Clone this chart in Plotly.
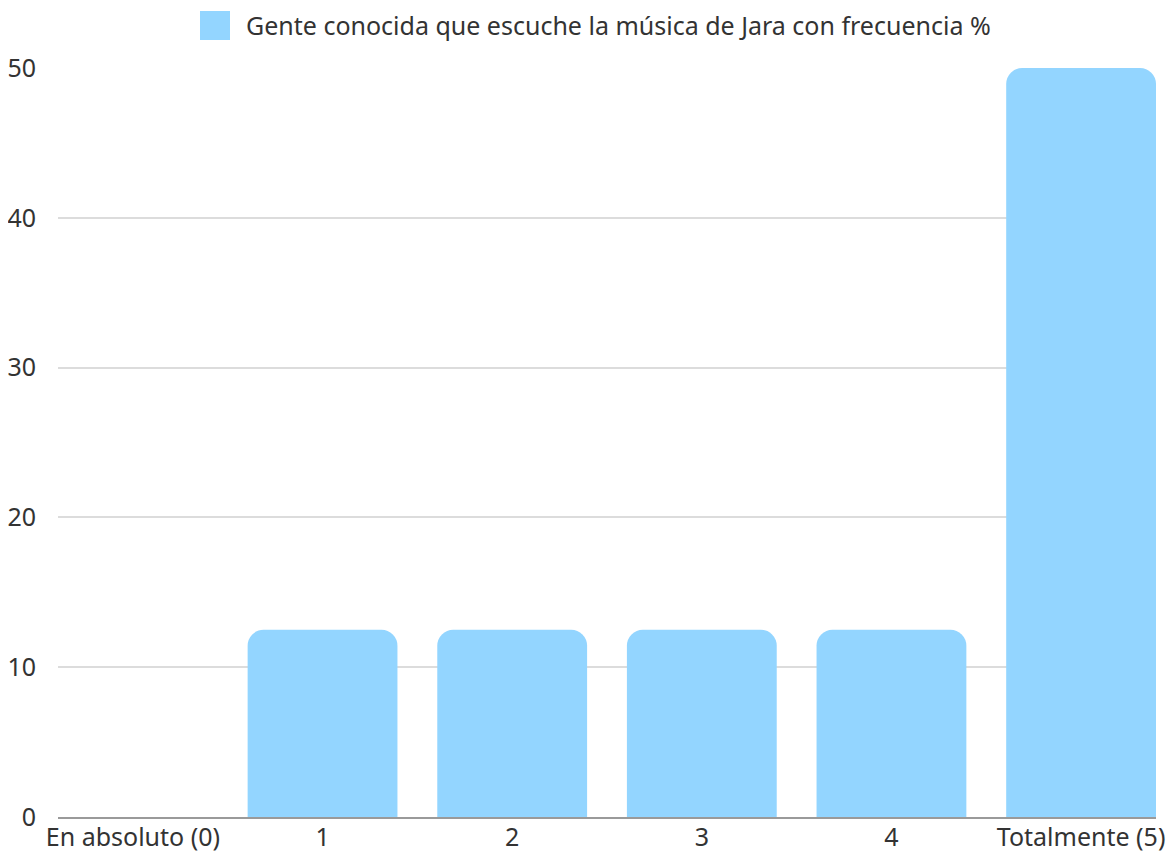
import plotly.graph_objects as go

categories = ["En absoluto (0)", "1", "2", "3", "4", "Totalmente (5)"]
values = [0, 12.5, 12.5, 12.5, 12.5, 50]
series_name = "Gente conocida que escuche la música de Jara con frecuencia %"
y_ticks = [0, 10, 20, 30, 40, 50]

bar_color = "#93D5FF"
font_family = "'Noto Sans', Lato, sans-serif"
text_size = 25

# page body has an 8px margin; figure sized to fill the rest of the window
W, H = 1166, 846
L, R, T, B = 50, 18, 60, 37
pw, ph = W - L - R, H - T - B

fig = go.Figure()
fig.add_trace(go.Bar(
    x=categories, y=values, name=series_name,
    marker=dict(color=bar_color, line=dict(width=0)),
    showlegend=False,
))

fig.update_layout(
    width=W, height=H,
    margin=dict(l=L, r=R, t=T, b=B),
    paper_bgcolor="white", plot_bgcolor="white",
    bargap=0.21,
    barcornerradius=16,
    font=dict(family=font_family, size=text_size, color="#333333"),
    xaxis=dict(
        type="category",
        range=[-0.395, 5.395],
        automargin=False,
        showgrid=False,
        showline=True, linecolor="#9a9a9a", linewidth=1.5,
        ticks="", ticklabelstandoff=-3,
        tickfont=dict(size=text_size, color="#333333"),
    ),
    yaxis=dict(
        range=[0, 50], tickvals=y_ticks,
        automargin=False,
        showgrid=True, gridcolor="#dcdcdc", gridwidth=1.5,
        zeroline=False, showline=False,
        ticks="", ticklabelstandoff=21,
        tickfont=dict(size=text_size, color="#333333"),
    ),
    shapes=[dict(
        type="rect", xref="paper", yref="paper",
        x0=(200 - 58) / pw, x1=(230 - 58) / pw,
        y0=(817 - 40) / ph, y1=(817 - 11) / ph,
        fillcolor=bar_color, line=dict(width=0),
    )],
    annotations=[dict(
        text=series_name, xref="paper", yref="paper",
        x=(244 - 58) / pw, y=(817 - 25) / ph,
        xanchor="left", yanchor="middle", showarrow=False,
        font=dict(family=font_family, size=text_size, color="#333333"),
    )],
)

fig.write_html("out.html")
